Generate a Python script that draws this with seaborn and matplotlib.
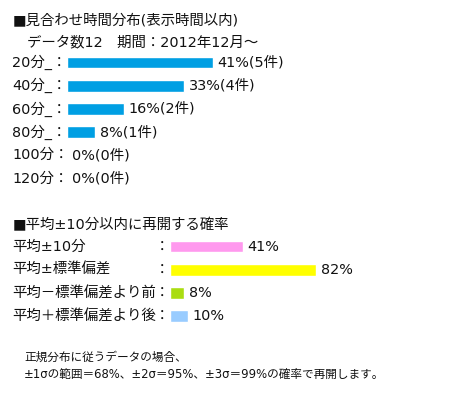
import matplotlib
matplotlib.use("Agg")
import matplotlib.pyplot as plt
import seaborn as sns
import pandas as pd

# ---- data ----
dist_labels = ["20分_", "40分_", "60分_", "80分_", "100分", "120分"]
dist_pct = [41, 33, 16, 8, 0, 0]
dist_count = [5, 4, 2, 1, 0, 0]

prob_labels = ["平均±10分", "平均±標準偏差", "平均－標準偏差より前", "平均＋標準偏差より後"]
prob_pct = [41, 82, 8, 10]
prob_colors = ["#FF99EE", "#FFFF00", "#AADD11", "#99CCFF"]

title1 = "■見合わせ時間分布(表示時間以内)"
subtitle1 = "データ数12　期間：2012年12月～"
title2 = "■平均±10分以内に再開する確率"
footer1 = "正規分布に従うデータの場合、"
footer2 = "±1σの範囲＝68%、±2σ＝95%、±3σ＝99%の確率で再開します。"

sns.set_theme(style="white")
plt.rcParams["font.family"] = ["DejaVu Sans", "Noto Sans CJK JP"]

W, H = 449, 397
fig = plt.figure(figsize=(W / 100, H / 100), dpi=100)
fig.patch.set_facecolor("white")

FS = 10.4
TXT = "#111111"


def ftext(x, y, s, **kw):
    fig.text(x / W, 1 - y / H, s, va="center", ha="left", color=TXT, **kw)


def make_axes(x0, px_per_100, top_center, n, spacing):
    top = top_center - spacing / 2
    height = spacing * n
    ax = fig.add_axes([x0 / W, 1 - (top + height) / H, px_per_100 / W, height / H])
    return ax


# ---- section 1 ----
ftext(13, 20, title1, fontsize=FS)
ftext(27, 42, subtitle1, fontsize=FS)

sp = 23.2
ax1 = make_axes(67, 356, 62.5, len(dist_labels), sp)
df1 = pd.DataFrame({"cat": dist_labels, "pct": dist_pct})
sns.barplot(data=df1, x="pct", y="cat", color="#009FE3", width=0.5,
            orient="h", ax=ax1, saturation=1)
ax1.set_xlim(0, 100)
ax1.set_ylim(len(dist_labels) - 0.5, -0.5)
ax1.axis("off")
for i, (lab, p, c) in enumerate(zip(dist_labels, dist_pct, dist_count)):
    ax1.text((12 - 67) / 3.56, i, lab + "：", va="center", ha="left",
             fontsize=FS, color=TXT)
    ax1.annotate(f"{p}%({c}件)", xy=(p, i), xytext=(3.4, 0),
                 textcoords="offset points", va="center", ha="left",
                 fontsize=FS, color=TXT)

# ---- section 2 ----
ftext(13, 225, title2, fontsize=FS)

ax2 = make_axes(170, 178, 246.7, len(prob_labels), sp)
df2 = pd.DataFrame({"cat": prob_labels, "pct": prob_pct})
sns.barplot(data=df2, x="pct", y="cat", hue="cat", palette=prob_colors,
            width=0.5, orient="h", ax=ax2, legend=False, saturation=1)
ax2.set_xlim(0, 100)
ax2.set_ylim(len(prob_labels) - 0.5, -0.5)
ax2.axis("off")
for i, (lab, p) in enumerate(zip(prob_labels, prob_pct)):
    ax2.text((12 - 170) / 1.78, i, lab, va="center", ha="left",
             fontsize=FS, color=TXT)
    ax2.text((155 - 170) / 1.78, i, "：", va="center", ha="left",
             fontsize=FS, color=TXT)
    ax2.annotate(f"{p}%", xy=(p, i), xytext=(3.4, 0),
                 textcoords="offset points", va="center", ha="left",
                 fontsize=FS, color=TXT)

# ---- footer ----
ftext(24, 357, footer1, fontsize=8.4)
ftext(24, 374, footer2, fontsize=8.4)

fig.savefig("out.png", dpi=100, facecolor="white")
